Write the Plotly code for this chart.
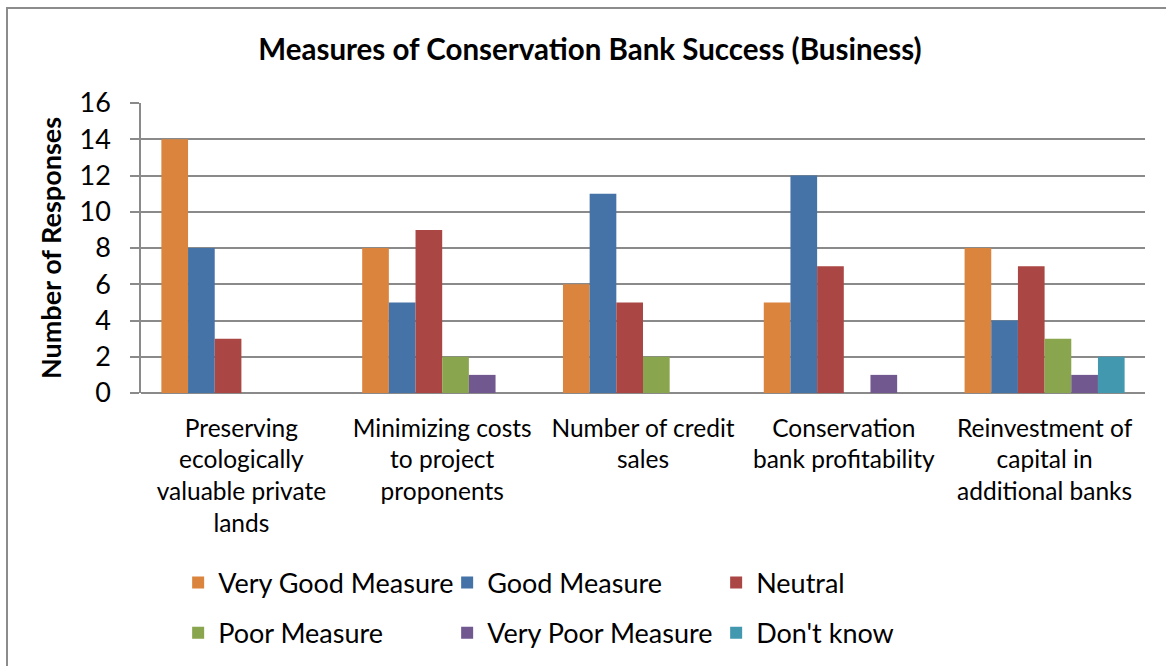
import plotly.graph_objects as go

categories = [
    "Preserving<br>ecologically<br>valuable private<br>lands",
    "Minimizing costs<br>to project<br>proponents",
    "Number of credit<br>sales",
    "Conservation<br>bank profitability",
    "Reinvestment of<br>capital in<br>additional banks",
]
series_names = ["Very Good Measure", "Good Measure", "Neutral",
                "Poor Measure", "Very Poor Measure", "Don't know"]
very_good = [14, 8, 6, 5, 8]
good = [8, 5, 11, 12, 4]
neutral = [3, 9, 5, 7, 7]
poor = [0, 2, 2, 0, 3]
very_poor = [0, 1, 0, 1, 1]
dont_know = [0, 0, 0, 0, 2]
y_ticks = [0, 2, 4, 6, 8, 10, 12, 14, 16]

series_values = [very_good, good, neutral, poor, very_poor, dont_know]
colors = ["#DB843D", "#4572A7", "#AA4643", "#89A54E", "#71588F", "#4198AF"]
# first three series in the top legend row, the rest in the second row
legend_ids = ["legend", "legend", "legend", "legend2", "legend2", "legend2"]

FONT = "Lato, Carlito, Calibri, sans-serif"
GRID = "#8A8A8A"

fig = go.Figure()
for name, vals, col, lg in zip(series_names, series_values, colors, legend_ids):
    fig.add_trace(go.Bar(
        x=categories, y=vals, name=name,
        marker=dict(color=col, line=dict(width=0)),
        legend=lg,
    ))

legend_common = dict(
    orientation="h", xanchor="left", yanchor="middle",
    font=dict(family=FONT, size=27, color="#000000"),
    entrywidth=224, entrywidthmode="pixels",
    bgcolor="rgba(0,0,0,0)", traceorder="normal",
)

fig.update_layout(
    width=1166, height=666,
    margin=dict(l=141, r=21, t=103, b=273, autoexpand=False),
    paper_bgcolor="white", plot_bgcolor="white",
    barmode="group", bargap=0.203, bargroupgap=0,
    font=dict(family=FONT, size=24, color="#000000"),
    title=dict(
        text="<b>Measures of Conservation Bank Success (Business)</b>",
        x=0.506, xanchor="center", y=0.925, yanchor="middle",
        font=dict(family=FONT, size=29.5, color="#000000"),
    ),
    legend=dict(x=0.037, y=-0.655, **legend_common),
    legend2=dict(x=0.037, y=-0.828, **legend_common),
    xaxis=dict(
        showgrid=False, showline=False, ticks="", automargin=False,
        tickfont=dict(family=FONT, size=24.5, color="#000000"),
        tickangle=0, ticklabelstandoff=18,
    ),
    yaxis=dict(
        range=[0, 16], tickvals=y_ticks, automargin=False,
        showgrid=True, gridcolor=GRID, gridwidth=1.6,
        showline=True, linecolor=GRID, linewidth=1.6,
        ticks="outside", ticklen=9, tickcolor=GRID, tickwidth=1.6,
        ticklabelstandoff=14,
        zeroline=True, zerolinecolor=GRID, zerolinewidth=1.6,
        tickfont=dict(family=FONT, size=27, color="#000000"),
        title=dict(text="<b>Number of Responses</b>", standoff=10,
                   font=dict(family=FONT, size=27, color="#000000")),
    ),
    shapes=[dict(
        type="rect", xref="paper", yref="paper",
        x0=(7 - 141) / 1004, x1=1.2, y0=-1.5, y1=(393 - 8) / 290,
        line=dict(color="#8C8C8C", width=2), fillcolor="rgba(0,0,0,0)",
        layer="below",
    )],
)

fig.write_html("out.html")
